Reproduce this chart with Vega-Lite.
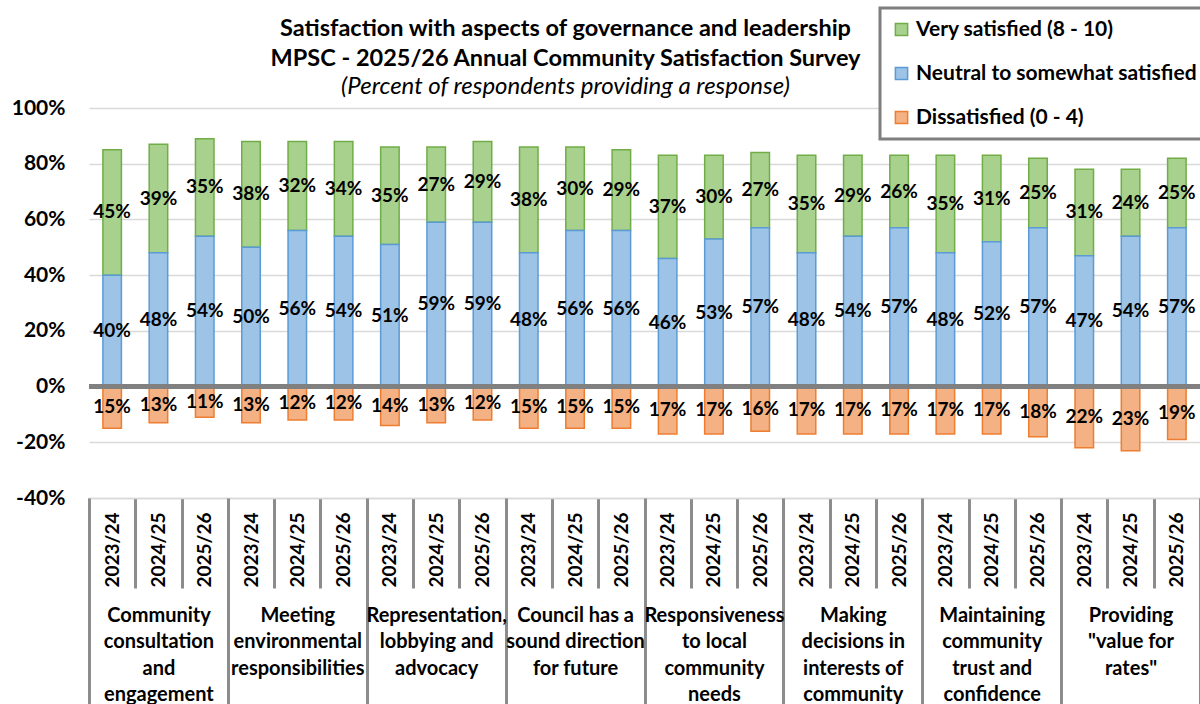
{
  "$schema": "https://vega.github.io/schema/vega-lite/v6.json",
  "autosize": {"type": "none"},
  "padding": {"left": 89, "top": 108, "right": 0, "bottom": 206},
  "width": 1111,
  "height": 390,
  "background": "white",
  "config": {
    "view": {"stroke": null},
    "font": "Lato",
    "text": {"font": "Lato"},
    "legend": {"strokeWidth": 3}
  },
  "title": {
    "text": ["Satisfaction with aspects of governance and leadership", "MPSC - 2025/26 Annual Community Satisfaction Survey"],
    "subtitle": "(Percent of respondents providing a response)",
    "anchor": "middle",
    "frame": "group",
    "dx": -79,
    "font": "Lato",
    "fontSize": 23.5,
    "fontWeight": "bold",
    "color": "black",
    "lineHeight": 30,
    "subtitleFont": "Lato",
    "subtitleFontSize": 24,
    "subtitleFontStyle": "italic",
    "subtitleColor": "black",
    "subtitlePadding": 4,
    "offset": -92
  },
  "data": {
    "values": [
      {"key": "Community\nconsultation\nand\nengagement|2023/24", "resp": "Very satisfied (8 - 10)", "value": 45},
      {"key": "Community\nconsultation\nand\nengagement|2023/24", "resp": "Neutral to somewhat satisfied", "value": 40},
      {"key": "Community\nconsultation\nand\nengagement|2023/24", "resp": "Dissatisfied (0 - 4)", "value": -15},
      {"key": "Community\nconsultation\nand\nengagement|2024/25", "resp": "Very satisfied (8 - 10)", "value": 39},
      {"key": "Community\nconsultation\nand\nengagement|2024/25", "resp": "Neutral to somewhat satisfied", "value": 48},
      {"key": "Community\nconsultation\nand\nengagement|2024/25", "resp": "Dissatisfied (0 - 4)", "value": -13},
      {"key": "Community\nconsultation\nand\nengagement|2025/26", "resp": "Very satisfied (8 - 10)", "value": 35},
      {"key": "Community\nconsultation\nand\nengagement|2025/26", "resp": "Neutral to somewhat satisfied", "value": 54},
      {"key": "Community\nconsultation\nand\nengagement|2025/26", "resp": "Dissatisfied (0 - 4)", "value": -11},

      {"key": "Meeting\nenvironmental\nresponsibilities|2023/24", "resp": "Very satisfied (8 - 10)", "value": 38},
      {"key": "Meeting\nenvironmental\nresponsibilities|2023/24", "resp": "Neutral to somewhat satisfied", "value": 50},
      {"key": "Meeting\nenvironmental\nresponsibilities|2023/24", "resp": "Dissatisfied (0 - 4)", "value": -13},
      {"key": "Meeting\nenvironmental\nresponsibilities|2024/25", "resp": "Very satisfied (8 - 10)", "value": 32},
      {"key": "Meeting\nenvironmental\nresponsibilities|2024/25", "resp": "Neutral to somewhat satisfied", "value": 56},
      {"key": "Meeting\nenvironmental\nresponsibilities|2024/25", "resp": "Dissatisfied (0 - 4)", "value": -12},
      {"key": "Meeting\nenvironmental\nresponsibilities|2025/26", "resp": "Very satisfied (8 - 10)", "value": 34},
      {"key": "Meeting\nenvironmental\nresponsibilities|2025/26", "resp": "Neutral to somewhat satisfied", "value": 54},
      {"key": "Meeting\nenvironmental\nresponsibilities|2025/26", "resp": "Dissatisfied (0 - 4)", "value": -12},

      {"key": "Representation,\nlobbying and\nadvocacy|2023/24", "resp": "Very satisfied (8 - 10)", "value": 35},
      {"key": "Representation,\nlobbying and\nadvocacy|2023/24", "resp": "Neutral to somewhat satisfied", "value": 51},
      {"key": "Representation,\nlobbying and\nadvocacy|2023/24", "resp": "Dissatisfied (0 - 4)", "value": -14},
      {"key": "Representation,\nlobbying and\nadvocacy|2024/25", "resp": "Very satisfied (8 - 10)", "value": 27},
      {"key": "Representation,\nlobbying and\nadvocacy|2024/25", "resp": "Neutral to somewhat satisfied", "value": 59},
      {"key": "Representation,\nlobbying and\nadvocacy|2024/25", "resp": "Dissatisfied (0 - 4)", "value": -13},
      {"key": "Representation,\nlobbying and\nadvocacy|2025/26", "resp": "Very satisfied (8 - 10)", "value": 29},
      {"key": "Representation,\nlobbying and\nadvocacy|2025/26", "resp": "Neutral to somewhat satisfied", "value": 59},
      {"key": "Representation,\nlobbying and\nadvocacy|2025/26", "resp": "Dissatisfied (0 - 4)", "value": -12},

      {"key": "Council has a\nsound direction\nfor future|2023/24", "resp": "Very satisfied (8 - 10)", "value": 38},
      {"key": "Council has a\nsound direction\nfor future|2023/24", "resp": "Neutral to somewhat satisfied", "value": 48},
      {"key": "Council has a\nsound direction\nfor future|2023/24", "resp": "Dissatisfied (0 - 4)", "value": -15},
      {"key": "Council has a\nsound direction\nfor future|2024/25", "resp": "Very satisfied (8 - 10)", "value": 30},
      {"key": "Council has a\nsound direction\nfor future|2024/25", "resp": "Neutral to somewhat satisfied", "value": 56},
      {"key": "Council has a\nsound direction\nfor future|2024/25", "resp": "Dissatisfied (0 - 4)", "value": -15},
      {"key": "Council has a\nsound direction\nfor future|2025/26", "resp": "Very satisfied (8 - 10)", "value": 29},
      {"key": "Council has a\nsound direction\nfor future|2025/26", "resp": "Neutral to somewhat satisfied", "value": 56},
      {"key": "Council has a\nsound direction\nfor future|2025/26", "resp": "Dissatisfied (0 - 4)", "value": -15},

      {"key": "Responsiveness\nto local\ncommunity\nneeds|2023/24", "resp": "Very satisfied (8 - 10)", "value": 37},
      {"key": "Responsiveness\nto local\ncommunity\nneeds|2023/24", "resp": "Neutral to somewhat satisfied", "value": 46},
      {"key": "Responsiveness\nto local\ncommunity\nneeds|2023/24", "resp": "Dissatisfied (0 - 4)", "value": -17},
      {"key": "Responsiveness\nto local\ncommunity\nneeds|2024/25", "resp": "Very satisfied (8 - 10)", "value": 30},
      {"key": "Responsiveness\nto local\ncommunity\nneeds|2024/25", "resp": "Neutral to somewhat satisfied", "value": 53},
      {"key": "Responsiveness\nto local\ncommunity\nneeds|2024/25", "resp": "Dissatisfied (0 - 4)", "value": -17},
      {"key": "Responsiveness\nto local\ncommunity\nneeds|2025/26", "resp": "Very satisfied (8 - 10)", "value": 27},
      {"key": "Responsiveness\nto local\ncommunity\nneeds|2025/26", "resp": "Neutral to somewhat satisfied", "value": 57},
      {"key": "Responsiveness\nto local\ncommunity\nneeds|2025/26", "resp": "Dissatisfied (0 - 4)", "value": -16},

      {"key": "Making\ndecisions in\ninterests of\ncommunity|2023/24", "resp": "Very satisfied (8 - 10)", "value": 35},
      {"key": "Making\ndecisions in\ninterests of\ncommunity|2023/24", "resp": "Neutral to somewhat satisfied", "value": 48},
      {"key": "Making\ndecisions in\ninterests of\ncommunity|2023/24", "resp": "Dissatisfied (0 - 4)", "value": -17},
      {"key": "Making\ndecisions in\ninterests of\ncommunity|2024/25", "resp": "Very satisfied (8 - 10)", "value": 29},
      {"key": "Making\ndecisions in\ninterests of\ncommunity|2024/25", "resp": "Neutral to somewhat satisfied", "value": 54},
      {"key": "Making\ndecisions in\ninterests of\ncommunity|2024/25", "resp": "Dissatisfied (0 - 4)", "value": -17},
      {"key": "Making\ndecisions in\ninterests of\ncommunity|2025/26", "resp": "Very satisfied (8 - 10)", "value": 26},
      {"key": "Making\ndecisions in\ninterests of\ncommunity|2025/26", "resp": "Neutral to somewhat satisfied", "value": 57},
      {"key": "Making\ndecisions in\ninterests of\ncommunity|2025/26", "resp": "Dissatisfied (0 - 4)", "value": -17},

      {"key": "Maintaining\ncommunity\ntrust and\nconfidence|2023/24", "resp": "Very satisfied (8 - 10)", "value": 35},
      {"key": "Maintaining\ncommunity\ntrust and\nconfidence|2023/24", "resp": "Neutral to somewhat satisfied", "value": 48},
      {"key": "Maintaining\ncommunity\ntrust and\nconfidence|2023/24", "resp": "Dissatisfied (0 - 4)", "value": -17},
      {"key": "Maintaining\ncommunity\ntrust and\nconfidence|2024/25", "resp": "Very satisfied (8 - 10)", "value": 31},
      {"key": "Maintaining\ncommunity\ntrust and\nconfidence|2024/25", "resp": "Neutral to somewhat satisfied", "value": 52},
      {"key": "Maintaining\ncommunity\ntrust and\nconfidence|2024/25", "resp": "Dissatisfied (0 - 4)", "value": -17},
      {"key": "Maintaining\ncommunity\ntrust and\nconfidence|2025/26", "resp": "Very satisfied (8 - 10)", "value": 25},
      {"key": "Maintaining\ncommunity\ntrust and\nconfidence|2025/26", "resp": "Neutral to somewhat satisfied", "value": 57},
      {"key": "Maintaining\ncommunity\ntrust and\nconfidence|2025/26", "resp": "Dissatisfied (0 - 4)", "value": -18},

      {"key": "Providing\n\"value for\nrates\"|2023/24", "resp": "Very satisfied (8 - 10)", "value": 31},
      {"key": "Providing\n\"value for\nrates\"|2023/24", "resp": "Neutral to somewhat satisfied", "value": 47},
      {"key": "Providing\n\"value for\nrates\"|2023/24", "resp": "Dissatisfied (0 - 4)", "value": -22},
      {"key": "Providing\n\"value for\nrates\"|2024/25", "resp": "Very satisfied (8 - 10)", "value": 24},
      {"key": "Providing\n\"value for\nrates\"|2024/25", "resp": "Neutral to somewhat satisfied", "value": 54},
      {"key": "Providing\n\"value for\nrates\"|2024/25", "resp": "Dissatisfied (0 - 4)", "value": -23},
      {"key": "Providing\n\"value for\nrates\"|2025/26", "resp": "Very satisfied (8 - 10)", "value": 25},
      {"key": "Providing\n\"value for\nrates\"|2025/26", "resp": "Neutral to somewhat satisfied", "value": 57},
      {"key": "Providing\n\"value for\nrates\"|2025/26", "resp": "Dissatisfied (0 - 4)", "value": -19}
    ]
  },
  "resolve": {"axis": {"x": "independent"}},
  "layer": [
    {
      "mark": {"type": "bar", "strokeWidth": 1.5, "width": {"band": 0.4}},
      "encoding": {
        "x": {
          "field": "key", "type": "nominal", "sort": null,
          "scale": {"paddingInner": 0, "paddingOuter": 0},
          "axis": {
            "title": null,
            "orient": "bottom",
            "labelExpr": "isString(datum.value) ? split(datum.value,'|')[1] : ''",
            "labelAngle": -90,
            "labelAlign": "right",
            "labelBaseline": "middle",
            "labelPadding": -76,
            "labelFont": "Lato",
            "labelFontSize": 19,
            "labelFontWeight": "bold",
            "labelColor": "black",
            "labelOverlap": false,
            "labelBound": false,
            "domainColor": "#d9d9d9",
            "domainWidth": 1.5,
            "ticks": true,
            "tickBand": "extent",
            "tickSize": 90,
            "tickWidth": 3,
            "tickColor": "#8c8c8c"
          }
        },
        "y": {
          "field": "value", "type": "quantitative", "stack": "zero", "title": null,
          "scale": {"domain": [-40, 100], "nice": false},
          "axis": {
            "values": [-40, -20, 0, 20, 40, 60, 80, 100],
            "labelExpr": "datum.value + '%'",
            "labelFont": "Lato",
            "labelFontSize": 21,
            "labelFontWeight": "bold",
            "labelColor": "black",
            "labelPadding": 24,
            "domain": false,
            "ticks": false,
            "gridColor": "#d9d9d9",
            "gridWidth": 1.5
          }
        },
        "order": {"field": "resp", "type": "nominal", "sort": "ascending"},
        "fill": {
          "field": "resp", "type": "nominal",
          "scale": {
            "domain": ["Very satisfied (8 - 10)", "Neutral to somewhat satisfied", "Dissatisfied (0 - 4)"],
            "range": ["#a9d18e", "#9dc3e6", "#f4b183"]
          },
          "legend": {
            "title": null,
            "orient": "none",
            "legendX": 791,
            "legendY": -100,
            "direction": "vertical",
            "fillColor": "white",
            "strokeColor": "#7f7f7f",
            "padding": 11,
            "symbolType": "square",
            "symbolSize": 150,
            "symbolStrokeWidth": 1.5,
            "labelFont": "Lato",
            "labelFontSize": 21,
            "labelFontWeight": "bold",
            "labelColor": "black",
            "labelLimit": 400,
            "labelOffset": 4,
            "rowPadding": 22
          }
        },
        "stroke": {
          "field": "resp", "type": "nominal",
          "scale": {
            "domain": ["Very satisfied (8 - 10)", "Neutral to somewhat satisfied", "Dissatisfied (0 - 4)"],
            "range": ["#70ad47", "#5b9bd5", "#ed7d31"]
          },
          "legend": null
        }
      }
    },
    {
      "mark": {"type": "rule", "color": "#808080", "strokeWidth": 4},
      "encoding": {"y": {"datum": 0}}
    },
    {
      "mark": {"type": "text", "font": "Lato", "fontSize": 19, "fontWeight": "bold", "color": "black", "baseline": "middle", "align": "center"},
      "encoding": {
        "x": {
          "field": "key", "type": "nominal", "sort": null,
          "axis": {
            "title": null,
            "orient": "bottom",
            "domain": false,
            "labelExpr": "isString(datum.value) && indexof(datum.value,'|2024/25')>=0 ? split(split(datum.value,'|')[0],'\\n') : ''",
            "labelAngle": 0,
            "labelAlign": "center",
            "labelBaseline": "top",
            "labelPadding": -99,
            "labelFont": "Lato",
            "labelFontSize": 20,
            "labelFontWeight": "bold",
            "labelColor": "black",
            "labelLineHeight": 26.5,
            "labelOverlap": false,
            "labelBound": false,
            "ticks": true,
            "tickBand": "extent",
            "tickSize": 206,
            "tickWidth": 3,
            "tickColor": "#8c8c8c",
            "tickOpacity": {"condition": {"test": "!isString(datum.value) || indexof(datum.value,'|2025/26')>=0", "value": 1}, "value": 0}
          }
        },
        "y": {"field": "value", "type": "quantitative", "stack": "zero", "bandPosition": 0.5, "title": null},
        "detail": {"field": "resp", "type": "nominal"},
        "order": {"field": "resp", "type": "nominal", "sort": "ascending"},
        "text": {"value": {"expr": "abs(datum.value) + '%'"}}
      }
    }
  ]
}
